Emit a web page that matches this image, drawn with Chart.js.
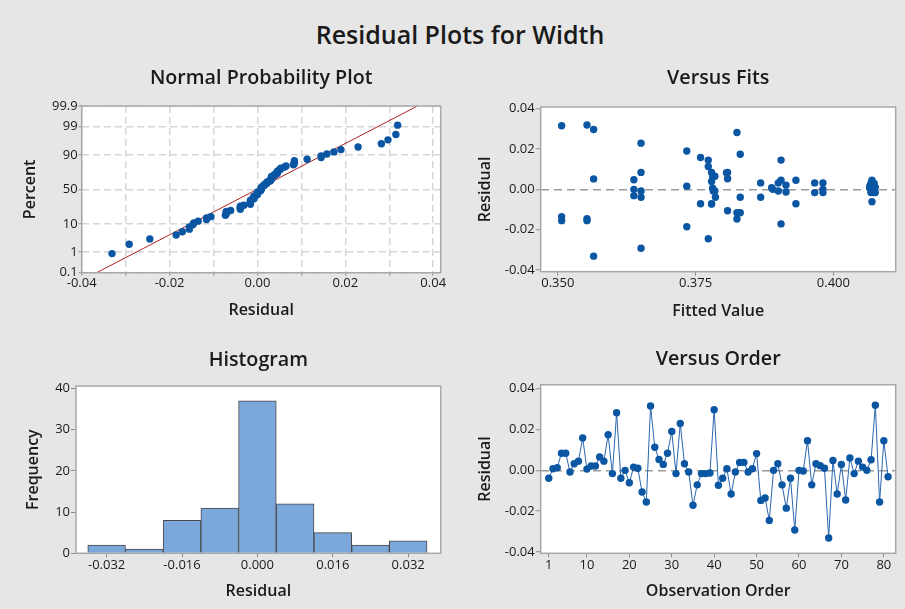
<!DOCTYPE html>
<html>
<head>
<meta charset="utf-8">
<title>Residual Plots for Width</title>
<script src="https://cdn.jsdelivr.net/npm/chart.js@4.4.1/dist/chart.umd.min.js"></script>
<style>
  body { margin: 0; background: #e6e6e6; }
  #page { position: relative; width: 905px; height: 609px; background: #e6e6e6; overflow: hidden;
          font-family: 'Open Sans', 'Noto Sans', sans-serif; color: #1a1a1a; }
  #mainTitle { position: absolute; left: 0; top: 18px; width: 920px; text-align: center;
               font-size: 25px; font-weight: 600; line-height: 32px; margin: 0; }
  canvas { position: absolute; }
</style>
</head>
<body>
<div id="page">
  <h1 id="mainTitle">Residual Plots for Width</h1>
  <canvas id="probPlot" width="452" height="290" style="left:0;top:50px"></canvas>
  <canvas id="fitsPlot" width="453" height="290" style="left:452px;top:50px"></canvas>
  <canvas id="histPlot" width="452" height="279" style="left:0;top:330px"></canvas>
  <canvas id="orderPlot" width="453" height="279" style="left:452px;top:330px"></canvas>
</div>
<script>
// Residuals in observation order (1..81)
var residuals = [
  -0.0039, 0.0008, 0.0013, 0.0084, 0.0084, -0.0008, 0.0032, 0.0045, 0.0158, 0.0006,
   0.0021, 0.0021, 0.0065, 0.0045, 0.0174, -0.0016, 0.0282, -0.0039, 0.0000, -0.0061,
   0.0016, 0.0010, -0.0106, -0.0155, 0.0315, 0.0113, 0.0053, 0.0029, 0.0084, 0.0190,
  -0.0016, 0.0229, 0.0032, -0.0008, -0.0171, -0.0071, -0.0016, -0.0016, -0.0013, 0.0297,
  -0.0073, -0.0039, 0.0008, -0.0116, -0.0008, 0.0039, 0.0039, -0.0008, 0.0008, 0.0082,
  -0.0147, -0.0135, -0.0245, 0.0000, 0.0032, -0.0071, -0.0185, -0.0039, -0.0292, 0.0000,
  -0.0003, 0.0145, -0.0071, 0.0032, 0.0023, 0.0010, -0.0331, 0.0048, -0.0116, 0.0029,
  -0.0145, 0.0061, -0.0016, 0.0045, 0.0016, 0.0000, 0.0052, 0.0319, -0.0155, 0.0145,
  -0.0031
];

// Fitted values, same order as residuals
var fittedValues = [
  0.3651, 0.3888, 0.4072, 0.3651, 0.3779, 0.3651, 0.3868, 0.3905, 0.3759, 0.3781,
  0.3914, 0.4068, 0.3785, 0.3932, 0.3831, 0.3966, 0.3825, 0.3786, 0.3638, 0.4070,
  0.3734, 0.4066, 0.3808, 0.3507, 0.3507, 0.3773, 0.3808, 0.4074, 0.3808, 0.3734,
  0.3981, 0.3651, 0.3900, 0.3782, 0.3905, 0.3759, 0.4068, 0.4076, 0.3914, 0.3565,
  0.3779, 0.3831, 0.4072, 0.3825, 0.3785, 0.3779, 0.4070, 0.3900, 0.4066, 0.3806,
  0.3825, 0.3507, 0.3773, 0.3890, 0.3966, 0.3779, 0.3734, 0.3868, 0.3651, 0.3981,
  0.4074, 0.3773, 0.3932, 0.3981, 0.4072, 0.4076, 0.3565, 0.3638, 0.3831, 0.4068,
  0.3553, 0.3781, 0.4072, 0.4070, 0.4066, 0.4070, 0.3565, 0.3553, 0.3553, 0.3905,
  0.3638
];

// Histogram bins
var binCenters = [-0.032, -0.024, -0.016, -0.008, 0.000, 0.008, 0.016, 0.024, 0.032];
var binCounts = [2, 1, 8, 11, 37, 12, 5, 2, 3];

// Fitted normal line, residual at 0.1% and 99.9%
var fitLineResidual = [-0.0366, 0.0364];
var fitLinePercent = [0.1, 99.9];

// Tick values
var percentTicks = [0.1, 1, 10, 50, 90, 99, 99.9];
var residualGridTicks = [-0.04, -0.03, -0.02, -0.01, 0, 0.01, 0.02, 0.03, 0.04];
var residualYTicks = [-0.04, -0.02, 0, 0.02, 0.04];
var fittedTicks = [0.350, 0.375, 0.400];
var histTicks = [-0.032, -0.016, 0, 0.016, 0.032];
var freqTicks = [0, 10, 20, 30, 40];
var orderTicks = [1, 10, 20, 30, 40, 50, 60, 70, 80];

var FONT = "'Open Sans', 'Noto Sans', sans-serif";
var DOT = '#0b56a3';
var TEXT = '#1a1a1a';

Chart.defaults.font.family = FONT;
Chart.defaults.color = TEXT;
Chart.defaults.animation = false;

// inverse normal CDF (Acklam)
function qnorm(p) {
  var a = [-39.69683028665376, 220.9460984245205, -275.9285104469687, 138.3577518672690, -30.66479806614716, 2.506628277459239];
  var b = [-54.47609879822406, 161.5858368580409, -155.6989798598866, 66.80131188771972, -13.28068155288572];
  var c = [-0.007784894002430293, -0.3223964580411365, -2.400758277161838, -2.549732539343734, 4.374664141464968, 2.938163982698783];
  var d = [0.007784695709041462, 0.3224671290700398, 2.445134137142996, 3.754408661907416];
  var q, r;
  if (p < 0.02425) {
    q = Math.sqrt(-2 * Math.log(p));
    return (((((c[0]*q+c[1])*q+c[2])*q+c[3])*q+c[4])*q+c[5]) / ((((d[0]*q+d[1])*q+d[2])*q+d[3])*q+1);
  }
  if (p > 1 - 0.02425) {
    q = Math.sqrt(-2 * Math.log(1 - p));
    return -(((((c[0]*q+c[1])*q+c[2])*q+c[3])*q+c[4])*q+c[5]) / ((((d[0]*q+d[1])*q+d[2])*q+d[3])*q+1);
  }
  q = p - 0.5; r = q * q;
  return (((((a[0]*r+a[1])*r+a[2])*r+a[3])*r+a[4])*r+a[5])*q / (((((b[0]*r+b[1])*r+b[2])*r+b[3])*r+b[4])*r+1);
}

function pnorm(z) {
  var t = 1 / (1 + 0.2316419 * Math.abs(z));
  var y = 0.3989423 * Math.exp(-z * z / 2) * t * (0.3193815 + t * (-0.3565638 + t * (1.781478 + t * (-1.821256 + t * 1.330274))));
  return z > 0 ? 1 - y : y;
}

// percent axis on normal probability paper
class ProbabilityScale extends Chart.Scale {
  determineDataLimits() {
    this.min = this.options.min;
    this.max = this.options.max;
  }
  buildTicks() {
    return percentTicks.map(function (v) { return { value: v }; });
  }
  getLabelForValue(v) { return String(v); }
  configure() {
    super.configure();
    this._zStart = qnorm(this.min / 100);
    this._zRange = qnorm(this.max / 100) - this._zStart;
  }
  getPixelForValue(v) {
    return this.getPixelForDecimal((qnorm(v / 100) - this._zStart) / this._zRange);
  }
  getValueForPixel(px) {
    return 100 * pnorm(this._zStart + this.getDecimalForPixel(px) * this._zRange);
  }
}
ProbabilityScale.id = 'probability';
ProbabilityScale.defaults = {};
Chart.register(ProbabilityScale);

// white plot area and grey frame
var framePlugin = {
  id: 'frame',
  beforeDraw: function (chart) {
    var a = chart.chartArea, ctx = chart.ctx;
    ctx.save();
    ctx.fillStyle = '#ffffff';
    ctx.fillRect(a.left, a.top, a.right - a.left, a.bottom - a.top);
    ctx.restore();
  },
  afterDraw: function (chart) {
    var a = chart.chartArea, ctx = chart.ctx;
    ctx.save();
    ctx.strokeStyle = '#a8a8a8';
    ctx.lineWidth = 1.5;
    ctx.strokeRect(a.left, a.top, a.right - a.left, a.bottom - a.top);
    ctx.restore();
  }
};

function setTicks(values) {
  return function (scale) {
    scale.ticks = values.map(function (v) { return { value: v }; });
  };
}
function fixWidth(w) { return function (scale) { scale.width = w; }; }
function fixHeight(h) { return function (scale) { scale.height = h; }; }

// panel titles sit centred over the plot area
function panelTitle(text, top, bottom) {
  return { display: true, text: text, color: TEXT, fullSize: false,
           font: { size: 19.7, weight: '600', family: FONT, lineHeight: 1.2 },
           padding: { top: top, bottom: bottom } };
}
function axisTitle(text, pad) {
  return { display: true, text: text, color: TEXT,
           font: { size: 16, weight: '600', family: FONT, lineHeight: 1.2 },
           padding: pad };
}
var tickFont = { size: 13, family: FONT };

function zeroLineGrid(ctx) {
  return ctx.tick && Math.abs(ctx.tick.value) < 1e-9 ? '#9c9c9c' : 'rgba(0,0,0,0)';
}

var dotStyle = { pointRadius: 3.7, pointHoverRadius: 3.7, pointBackgroundColor: DOT, pointBorderColor: DOT, pointBorderWidth: 0 };

// ---- Normal Probability Plot ----
var sorted = residuals.slice().sort(function (a, b) { return a - b; });
var n = sorted.length;
var probPoints = sorted.map(function (r, i) {
  return { x: r, y: 100 * (i + 1 - 0.3) / (n + 0.4) };   // median ranks
});

new Chart(document.getElementById('probPlot'), {
  type: 'scatter',
  data: {
    datasets: [
      Object.assign({ data: probPoints, showLine: false }, dotStyle),
      { data: fitLineResidual.map(function (x, i) { return { x: x, y: fitLinePercent[i] }; }),
        showLine: true, borderColor: '#b22222', borderWidth: 1, pointRadius: 0 }
    ]
  },
  plugins: [framePlugin],
  options: {
    responsive: false, devicePixelRatio: 1,
    layout: { padding: { left: 0, right: 11.3, top: 0, bottom: 0 } },
    plugins: { legend: { display: false }, tooltip: { enabled: false },
               title: panelTitle('Normal Probability Plot', 16.2, 16.2) },
    scales: {
      x: {
        type: 'linear', min: -0.04, max: 0.0417,
        afterBuildTicks: setTicks(residualGridTicks), afterFit: fixHeight(67.3),
        grid: { color: '#d6d6d6', lineWidth: 1.5, tickLength: 3, tickColor: '#8c8c8c', tickWidth: 1 },
        border: { display: false, dash: [7, 4] },
        ticks: { font: tickFont, padding: 0, maxRotation: 0, autoSkip: false,
                 callback: function (v) { return Math.round(v * 100) % 2 === 0 ? v.toFixed(2) : ''; } },
        title: axisTitle('Residual', { top: 0, bottom: 20.4 })
      },
      y: {
        type: 'probability', min: 0.1, max: 99.9, afterFit: fixWidth(81.7),
        grid: { color: '#d6d6d6', lineWidth: 1.5, tickLength: 3, tickColor: '#8c8c8c', tickWidth: 1 },
        border: { display: false, dash: [7, 4] },
        ticks: { font: tickFont, padding: 1 },
        title: axisTitle('Percent', { top: 20.4, bottom: 0 })
      }
    }
  }
});

// ---- Versus Fits ----
new Chart(document.getElementById('fitsPlot'), {
  type: 'scatter',
  data: {
    datasets: [Object.assign({
      data: fittedValues.map(function (f, i) { return { x: f, y: residuals[i] }; })
    }, dotStyle)]
  },
  plugins: [framePlugin],
  options: {
    responsive: false, devicePixelRatio: 1,
    layout: { padding: { left: 0, right: 9.3, top: 0, bottom: 0 } },
    plugins: { legend: { display: false }, tooltip: { enabled: false },
               title: panelTitle('Versus Fits', 16.2, 17.2) },
    scales: {
      x: {
        type: 'linear', min: 0.3469, max: 0.4113,
        afterBuildTicks: setTicks(fittedTicks), afterFit: fixHeight(68.3),
        grid: { drawOnChartArea: false, tickLength: 4, tickColor: '#8c8c8c' },
        border: { display: false },
        ticks: { font: tickFont, padding: 0, maxRotation: 0, autoSkip: false,
                 callback: function (v) { return v.toFixed(3); } },
        title: axisTitle('Fitted Value', { top: 0, bottom: 18.7 })
      },
      y: {
        type: 'linear', min: -0.0408, max: 0.0408,
        afterBuildTicks: setTicks(residualYTicks), afterFit: fixWidth(88.7),
        grid: { color: zeroLineGrid, lineWidth: 1.5, tickLength: 5, tickColor: '#8c8c8c', tickWidth: 1 },
        border: { display: false, dash: [8, 5] },
        ticks: { font: tickFont, padding: 1, callback: function (v) { return v.toFixed(2); } },
        title: axisTitle('Residual', { top: 23.4, bottom: 0 })
      }
    }
  }
});

// ---- Histogram ----
new Chart(document.getElementById('histPlot'), {
  type: 'bar',
  data: {
    datasets: [{
      data: binCenters.map(function (c, i) { return { x: c, y: binCounts[i] }; }),
      backgroundColor: '#7ba7da', borderColor: '#4a4a4a', borderWidth: 1,
      barPercentage: 1, categoryPercentage: 1
    }]
  },
  plugins: [framePlugin],
  options: {
    responsive: false, devicePixelRatio: 1,
    layout: { padding: { left: 0, right: 11.3, top: 0, bottom: 0 } },
    plugins: { legend: { display: false }, tooltip: { enabled: false },
               title: panelTitle('Histogram', 18.2, 14.2) },
    scales: {
      x: {
        type: 'linear', min: -0.0385, max: 0.0389, offset: false,
        afterBuildTicks: setTicks(histTicks), afterFit: fixHeight(55.7),
        grid: { offset: false, drawOnChartArea: false, tickLength: 4, tickColor: '#8c8c8c' },
        border: { display: false },
        ticks: { font: tickFont, padding: 0, maxRotation: 0, autoSkip: false,
                 callback: function (v) { return v.toFixed(3); } },
        title: axisTitle('Residual', { top: 0, bottom: 7.7 })
      },
      y: {
        type: 'linear', min: 0, max: 40.6,
        afterBuildTicks: setTicks(freqTicks), afterFit: fixWidth(76),
        grid: { drawOnChartArea: false, tickLength: 5, tickColor: '#8c8c8c' },
        border: { display: false },
        ticks: { font: tickFont, padding: 1 },
        title: axisTitle('Frequency', { top: 23.7, bottom: 0 })
      }
    }
  }
});

// ---- Versus Order ----
new Chart(document.getElementById('orderPlot'), {
  type: 'scatter',
  data: {
    datasets: [Object.assign({
      data: residuals.map(function (r, i) { return { x: i + 1, y: r }; }),
      showLine: true, borderColor: '#2a66b0', borderWidth: 1, tension: 0
    }, dotStyle)]
  },
  plugins: [framePlugin],
  options: {
    responsive: false, devicePixelRatio: 1,
    layout: { padding: { left: 0, right: 9.3, top: 0, bottom: 0 } },
    plugins: { legend: { display: false }, tooltip: { enabled: false },
               title: panelTitle('Versus Order', 17.5, 13.6) },
    scales: {
      x: {
        type: 'linear', min: -0.9, max: 82.8,
        afterBuildTicks: setTicks(orderTicks), afterFit: fixHeight(55.7),
        grid: { drawOnChartArea: false, tickLength: 4, tickColor: '#8c8c8c' },
        border: { display: false },
        ticks: { font: tickFont, padding: 0, maxRotation: 0, autoSkip: false },
        title: axisTitle('Observation Order', { top: 0, bottom: 7.7 })
      },
      y: {
        type: 'linear', min: -0.0406, max: 0.0419,
        afterBuildTicks: setTicks(residualYTicks), afterFit: fixWidth(88.7),
        grid: { color: zeroLineGrid, lineWidth: 1.5, tickLength: 5, tickColor: '#8c8c8c', tickWidth: 1 },
        border: { display: false, dash: [8, 5] },
        ticks: { font: tickFont, padding: 1, callback: function (v) { return v.toFixed(2); } },
        title: axisTitle('Residual', { top: 23.4, bottom: 0 })
      }
    }
  }
});
</script>
</body>
</html>
